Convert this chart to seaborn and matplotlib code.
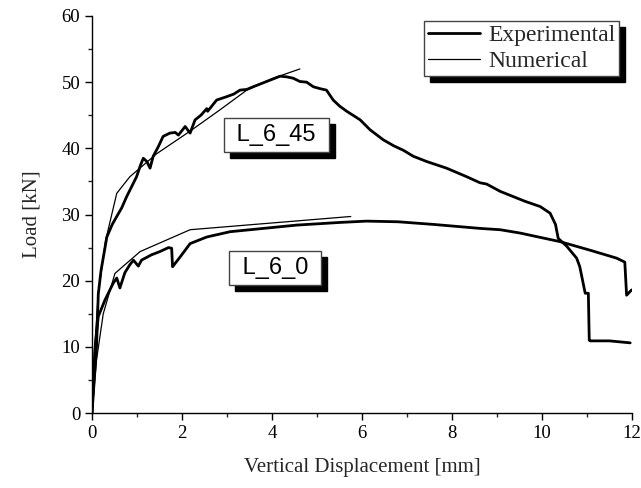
import matplotlib
matplotlib.use("Agg")
import matplotlib.pyplot as plt
from matplotlib.lines import Line2D
from matplotlib.patches import Rectangle
import seaborn as sns
import pandas as pd

# ---- data ----
exp45_x = [0, 0.05, 0.1, 0.14, 0.2, 0.33, 0.45, 0.55, 0.66, 0.77, 0.88, 0.99, 1.08, 1.14, 1.22, 1.29,
           1.36, 1.47, 1.58, 1.73, 1.85, 1.92, 2.07, 2.18, 2.29, 2.42, 2.55, 2.57, 2.77, 2.99, 3.15,
           3.29, 3.44, 3.58, 3.73, 3.88, 4.03, 4.18, 4.33, 4.47, 4.62, 4.77, 4.92, 5.08, 5.21, 5.36,
           5.50, 5.66, 5.80, 5.96, 6.18, 6.47, 6.70, 6.92, 7.14, 7.44, 7.88, 8.33, 8.62, 8.77, 9.07,
           9.29, 9.62, 9.96, 10.18, 10.30, 10.36, 10.55, 10.77, 10.84, 10.96, 11.03, 11.05, 11.07,
           11.5, 11.96]
exp45_y = [0, 5, 10, 18, 21.5, 26.6, 28.5, 29.7, 31, 32.7, 34.2, 35.7, 37.5, 38.5, 38.0, 37.0,
           38.8, 40.2, 41.8, 42.3, 42.4, 42.0, 43.3, 42.3, 44.3, 45.0, 46.0, 45.6, 47.3, 47.8, 48.2,
           48.8, 48.9, 49.3, 49.7, 50.1, 50.5, 50.9, 50.8, 50.6, 50.1, 50.0, 49.3, 49.0, 48.8, 47.3,
           46.4, 45.6, 45.0, 44.3, 42.8, 41.3, 40.4, 39.7, 38.8, 38.0, 37.0, 35.7, 34.8, 34.6, 33.5,
           32.9, 32.0, 31.2, 30.2, 28.5, 26.4, 25.2, 23.4, 22.1, 18.1, 18.1, 11.0, 10.9,
           10.9, 10.6]

exp0_x = [0, 0.03, 0.07, 0.14, 0.29, 0.47, 0.55, 0.62, 0.73, 0.84, 0.92, 1.03, 1.1, 1.32, 1.51,
          1.7, 1.77, 1.79, 1.96, 2.18, 2.55, 3.07, 3.81, 4.55, 5.51, 6.1, 6.8, 7.59, 8.62, 9.07,
          9.51, 10.4, 11.07, 11.66, 11.84, 11.88, 11.99]
exp0_y = [0, 4.5, 10, 14.6, 17.1, 19.6, 20.4, 18.9, 21.2, 22.4, 23.1, 22.2, 23.1, 23.9, 24.4,
          25.0, 24.9, 22.1, 23.6, 25.6, 26.6, 27.4, 27.9, 28.4, 28.8, 29.0, 28.9, 28.5, 27.9, 27.7,
          27.2, 25.9, 24.6, 23.4, 22.8, 17.8, 18.6]

num45_x = [0, 0.05, 0.14, 0.3, 0.55, 0.84, 1.44, 2.18, 2.84, 3.44, 4.03, 4.62]
num45_y = [0, 9, 18, 26, 33.2, 35.7, 39.2, 42.6, 45.8, 48.8, 50.6, 52.0]

num0_x = [0, 0.1, 0.25, 0.51, 1.07, 2.18, 5.75]
num0_y = [0, 8, 15, 21.1, 24.4, 27.7, 29.7]

series_names = ["Experimental", "Numerical"]
specimen_labels = ["L_6_45", "L_6_0"]

# ---- figure ----
sns.set_style("ticks")
plt.rcParams['font.family'] = ['Liberation Serif', 'DejaVu Serif']
plt.rcParams['xtick.direction'] = 'out'
plt.rcParams['ytick.direction'] = 'out'

fig = plt.figure(figsize=(6.41, 4.88), dpi=100)
ax = fig.add_axes([92/641, 1-413/488, 540/641, 397/488])

def df(x, y):
    return pd.DataFrame({"x": x, "y": y})

sns.lineplot(data=df(exp45_x, exp45_y), x="x", y="y", ax=ax, color="k", lw=2.0,
             sort=False, estimator=None)
sns.lineplot(data=df(exp0_x, exp0_y), x="x", y="y", ax=ax, color="k", lw=2.0,
             sort=False, estimator=None)
sns.lineplot(data=df(num45_x, num45_y), x="x", y="y", ax=ax, color="k", lw=0.9,
             sort=False, estimator=None)
sns.lineplot(data=df(num0_x, num0_y), x="x", y="y", ax=ax, color="k", lw=0.9,
             sort=False, estimator=None)

ax.set_xlim(0, 12)
ax.set_ylim(0, 60)
ax.set_xticks(range(0, 13, 2))
ax.set_xticks(range(1, 12, 2), minor=True)
ax.set_yticks(range(0, 61, 10))
ax.set_yticks(range(5, 60, 10), minor=True)
ax.tick_params(axis='both', which='major', length=5, width=1, labelsize=13.5, colors='k')
ax.tick_params(axis='both', which='minor', length=3, width=1)
sns.despine(ax=ax)
for s in ['left', 'bottom']:
    ax.spines[s].set_linewidth(1.0)
    ax.spines[s].set_color('k')

ax.set_xlabel("Vertical Displacement [mm]", fontsize=15, labelpad=12)
ax.set_ylabel("Load [kN]", fontsize=15, labelpad=14)

# specimen labels in boxes
positions = [(4.1, 42.0), (4.07, 21.9)]
label_texts = []
for lab, (px, py) in zip(specimen_labels, positions):
    t = ax.text(px, py, " " + lab + " ", ha='center', va='center', fontsize=17,
                family='Liberation Sans', color='k',
                bbox=dict(boxstyle='square,pad=0.27', fc='white', ec='#444444', lw=1), zorder=7)
    label_texts.append(t)

handles = [Line2D([], [], color='k', lw=2.0), Line2D([], [], color='k', lw=0.9)]
leg = ax.legend(handles, series_names, loc='upper right', bbox_to_anchor=(0.976, 0.987),
                borderaxespad=0, fontsize=17, frameon=True, fancybox=False, borderpad=0.15,
                labelspacing=0.2, handlelength=2.2, handletextpad=0.35, framealpha=1.0)
leg.get_frame().set_facecolor('white')
leg.get_frame().set_edgecolor('#444444')
leg.get_frame().set_linewidth(1.0)
leg.set_zorder(8)

# drop shadows (black, offset down-right)
fig.canvas.draw()
renderer = fig.canvas.get_renderer()
for t in label_texts:
    bb = t.get_bbox_patch().get_window_extent(renderer)
    ax.add_patch(Rectangle((bb.x0 + 6, bb.y0 - 6), bb.width, bb.height, transform=None,
                           fc='k', ec='k', zorder=6.5, clip_on=False))
bb = leg.get_window_extent(renderer)
ax.add_patch(Rectangle((bb.x0 + 6, bb.y0 - 6), bb.width, bb.height, transform=None,
                       fc='k', ec='k', zorder=7.5, clip_on=False))

fig.savefig("out.png", dpi=100)
